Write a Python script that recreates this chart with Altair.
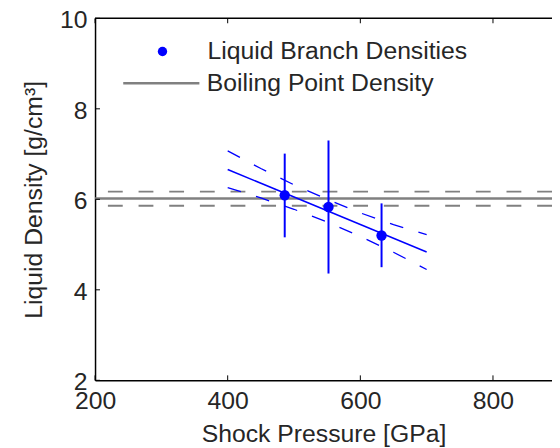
import altair as alt
import pandas as pd

# ---- data ----
x_ticks = [200, 400, 600, 800]
y_ticks = [2, 4, 6, 8, 10]

pressure = [486, 552, 632]
density = [6.09, 5.83, 5.20]
err_low = [5.16, 4.36, 4.50]
err_high = [7.01, 7.30, 5.91]

fit_x = [400, 700]
fit_y = [6.66, 4.835]

band_x = [400, 450, 500, 550, 600, 650, 700]
band_upper = [7.07, 6.68, 6.32, 6.00, 5.70, 5.44, 5.22]
band_lower = [6.26, 6.03, 5.78, 5.50, 5.18, 4.83, 4.45]

boiling = [6.02]
boiling_bounds = [6.17, 5.86]

point_label = "Liquid Branch Densities"
line_label = "Boiling Point Density"

# ---- styling ----
W, H = 462, 366
FONT = "Liberation Sans"
TXT = "#262626"
BLUE = "#0000ff"
GRAY = "#808080"
FS = 25

pts = pd.DataFrame({"p": pressure, "d": density, "lo": err_low, "hi": err_high,
                    "series": [point_label] * len(pressure)})
fit = pd.DataFrame({"p": fit_x, "d": fit_y})
band = pd.DataFrame({"p": band_x + band_x, "d": band_upper + band_lower,
                     "which": ["upper"] * len(band_x) + ["lower"] * len(band_x)})
boil = pd.DataFrame({"d": boiling, "series": [line_label]})
boil_b = pd.DataFrame({"d": boiling_bounds})
xt = pd.DataFrame({"p": x_ticks})
yt = pd.DataFrame({"d": y_ticks})

xs = alt.Scale(domain=[200, 889], nice=False, zero=False)
ys = alt.Scale(domain=[2, 10], nice=False, zero=False)

x_axis = alt.Axis(values=x_ticks, ticks=False, grid=False, labelFlush=False,
                  labelPadding=9, title="Shock Pressure [GPa]", titlePadding=8,
                  domainColor="black", domainWidth=1.5, labelFontSize=FS,
                  titleFontSize=FS, labelColor=TXT, titleColor=TXT, labelFont=FONT,
                  titleFont=FONT, titleFontWeight="normal", format="d",
                  labelOverlap=False)
y_axis = alt.Axis(values=y_ticks, ticks=False, grid=False, labelPadding=8,
                  labelOffset=1.5,
                  title="Liquid Density [g/cm³]", titlePadding=13,
                  domainColor="black", domainWidth=1.5, labelFontSize=FS,
                  titleFontSize=FS, labelColor=TXT, titleColor=TXT, labelFont=FONT,
                  titleFont=FONT, titleFontWeight="normal", format="d",
                  labelOverlap=False)


def X(f="p"):
    return alt.X(f"{f}:Q", scale=xs, axis=x_axis)


def Y(f="d"):
    return alt.Y(f"{f}:Q", scale=ys, axis=y_axis)


dashed = alt.Chart(boil_b).mark_rule(strokeDash=[15, 16], strokeWidth=2,
                                      color=GRAY).encode(y=Y())
solid = alt.Chart(boil).mark_rule(strokeWidth=2.5).encode(
    y=Y(),
    stroke=alt.Stroke("series:N", scale=alt.Scale(domain=[line_label], range=[GRAY]),
                      legend=alt.Legend(title=None, orient="none", legendX=27,
                                        legendY=25.7, symbolType="stroke",
                                        symbolSize=5929, symbolStrokeWidth=2.5,
                                        labelFontSize=FS, labelFont=FONT,
                                        labelColor=TXT, labelOffset=6,
                                        labelLimit=0, padding=0)))
bands = alt.Chart(band).mark_line(strokeDash=[14, 16], strokeWidth=1.3,
                                  color=BLUE).encode(x=X(), y=Y(), detail="which:N")
fitline = alt.Chart(fit).mark_line(strokeWidth=1.5, color=BLUE).encode(x=X(), y=Y())
errs = alt.Chart(pts).mark_rule(strokeWidth=2, color=BLUE).encode(
    x=X(), y=Y("lo"), y2="hi:Q")
points = alt.Chart(pts).mark_point(filled=True, size=110, opacity=1).encode(
    x=X(), y=Y(),
    color=alt.Color("series:N", scale=alt.Scale(domain=[point_label], range=[BLUE]),
                    legend=alt.Legend(title=None, orient="none", legendX=55.7,
                                      legendY=21, symbolType="circle",
                                      symbolSize=90, symbolStrokeWidth=0,
                                      symbolOpacity=1,
                                      labelFontSize=FS, labelFont=FONT,
                                      labelColor=TXT, labelOffset=33,
                                      labelLimit=0, padding=0)))

# inward-pointing ticks and top frame line
tick_bottom = alt.Chart(xt).mark_rule(color="black", strokeWidth=1).encode(
    x=X(), y=alt.value(H), y2=alt.value(H - 5))
tick_top = alt.Chart(xt).mark_rule(color="black", strokeWidth=1).encode(
    x=X(), y=alt.value(0), y2=alt.value(5))
tick_left = alt.Chart(yt).mark_rule(color="black", strokeWidth=1).encode(
    y=Y(), x=alt.value(0), x2=alt.value(5))
top_line = alt.Chart(xt.head(1)).mark_rule(color="black", strokeWidth=1.5).encode(
    x=alt.value(0), x2=alt.value(W), y=alt.value(0))

chart = alt.layer(
    dashed, solid, bands, fitline, errs, points,
    tick_bottom, tick_top, tick_left, top_line
).resolve_scale(color="independent").properties(
    width=W, height=H,
    background="white",
    autosize=alt.AutoSizeParams(type="none"),
    padding={"left": 88, "top": 8, "right": 0, "bottom": 66},
).configure_view(strokeWidth=0, strokeOpacity=0)

chart.save("out.html", embed_options={"renderer": "svg", "actions": False})
